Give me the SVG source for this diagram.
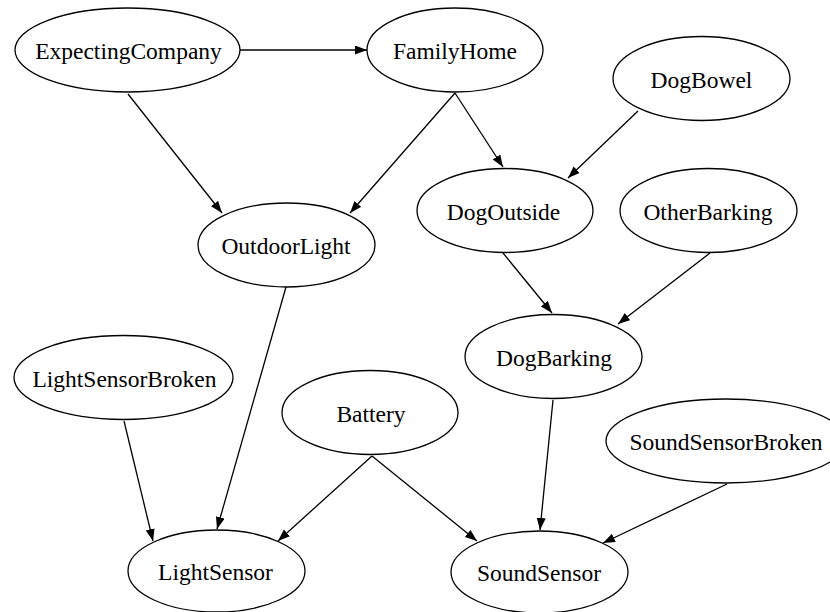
<svg xmlns="http://www.w3.org/2000/svg" width="830" height="612" viewBox="0 0 830 612">
<style>
.node ellipse{fill:#fff;stroke:#000;stroke-width:1.3}
.node text{font-family:"Liberation Serif","Times New Roman",serif;font-size:23.5px;fill:#000;text-anchor:middle}
.edges line{stroke:#000;stroke-width:1.3;fill:none;marker-end:url(#arrow)}
</style>
<defs>
<marker id="arrow" markerUnits="userSpaceOnUse" markerWidth="14" markerHeight="10" refX="12" refY="4.5" orient="auto">
<path d="M0,0 L12,4.5 L0,9 Z" fill="#000"/>
</marker>
</defs>
<rect width="830" height="612" fill="#fff"/>
<g class="edges" id="edges">
<line x1="240" y1="50" x2="367" y2="50"/>
<line x1="128" y1="94" x2="222" y2="213"/>
<line x1="455" y1="93" x2="350" y2="213"/>
<line x1="455" y1="93" x2="503" y2="167"/>
<line x1="638" y1="111" x2="568" y2="178"/>
<line x1="503" y1="253" x2="552" y2="313"/>
<line x1="710" y1="253" x2="618" y2="324"/>
<line x1="286" y1="287" x2="217" y2="529"/>
<line x1="124" y1="421" x2="153" y2="541"/>
<line x1="372" y1="456" x2="278" y2="541"/>
<line x1="372" y1="456" x2="477" y2="541"/>
<line x1="553" y1="400" x2="540" y2="530"/>
<line x1="727" y1="484" x2="603" y2="543"/>
</g>
<g class="node" id="ExpectingCompany"><ellipse cx="127.5" cy="50" rx="112.5" ry="42"/><text x="128.5" y="59">ExpectingCompany</text></g>
<g class="node" id="FamilyHome"><ellipse cx="455" cy="50" rx="88" ry="42"/><text x="455" y="59">FamilyHome</text></g>
<g class="node" id="DogBowel"><ellipse cx="701.5" cy="78.5" rx="88.5" ry="42"/><text x="701.5" y="87.5">DogBowel</text></g>
<g class="node" id="DogOutside"><ellipse cx="505" cy="210.5" rx="88" ry="42"/><text x="503.5" y="219.5">DogOutside</text></g>
<g class="node" id="OtherBarking"><ellipse cx="708.5" cy="210.5" rx="88.5" ry="42"/><text x="708" y="219.5">OtherBarking</text></g>
<g class="node" id="OutdoorLight"><ellipse cx="286.5" cy="245" rx="88.5" ry="42"/><text x="286" y="254">OutdoorLight</text></g>
<g class="node" id="DogBarking"><ellipse cx="553.5" cy="356.5" rx="88.5" ry="42"/><text x="554" y="365.5">DogBarking</text></g>
<g class="node" id="LightSensorBroken"><ellipse cx="123.5" cy="377.5" rx="109.5" ry="42"/><text x="124.5" y="386.5">LightSensorBroken</text></g>
<g class="node" id="Battery"><ellipse cx="370" cy="412.5" rx="88" ry="42"/><text x="371" y="421.5">Battery</text></g>
<g class="node" id="SoundSensorBroken"><ellipse cx="726" cy="441" rx="120" ry="42"/><text x="726" y="450">SoundSensorBroken</text></g>
<g class="node" id="LightSensor"><ellipse cx="216.5" cy="571" rx="88.5" ry="41"/><text x="215.5" y="580">LightSensor</text></g>
<g class="node" id="SoundSensor"><ellipse cx="539.5" cy="572" rx="88.5" ry="41"/><text x="539" y="581">SoundSensor</text></g>
</svg>
